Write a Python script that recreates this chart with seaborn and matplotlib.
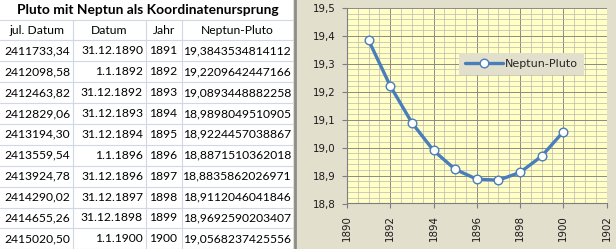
import matplotlib
matplotlib.use("Agg")
import matplotlib.pyplot as plt
from matplotlib.lines import Line2D
from matplotlib.patches import Rectangle
from matplotlib.ticker import MultipleLocator, FixedLocator, FixedFormatter
import numpy as np
import pandas as pd
import seaborn as sns

# ---------------- data ----------------
title = "Pluto mit Neptun als Koordinatenursprung"
headers = ["jul. Datum", "Datum", "Jahr", "Neptun-Pluto"]
jul_datum = [2411733.34, 2412098.58, 2412463.82, 2412829.06, 2413194.30,
             2413559.54, 2413924.78, 2414290.02, 2414655.26, 2415020.50]
datum = ["31.12.1890", "1.1.1892", "31.12.1892", "31.12.1893", "31.12.1894",
         "1.1.1896", "31.12.1896", "31.12.1897", "31.12.1898", "1.1.1900"]
jahr = [1891, 1892, 1893, 1894, 1895, 1896, 1897, 1898, 1899, 1900]
neptun_pluto = [19.3843534814112, 19.2209642447166, 19.0893448882258,
                18.9898049510905, 18.9224457038867, 18.8871510362018,
                18.8835862026971, 18.9112046041846, 18.9692590203407,
                19.0568237425556]
series_name = "Neptun-Pluto"
x_ticks = [1890, 1892, 1894, 1896, 1898, 1900, 1902]
y_ticks = [18.8, 18.9, 19.0, 19.1, 19.2, 19.3, 19.4, 19.5]
y_tick_labels = ["18,8", "18,9", "19,0", "19,1", "19,2", "19,3", "19,4", "19,5"]

# ---------------- style ----------------
W, H = 616, 249
CHART_BG = "#e3dfcd"
PLOT_BG = "#ffffc6"
LINE_BLUE = "#4a7ebb"
GRID_TABLE = "#d0d7e5"

sns.set_style("white")
plt.rcParams["font.family"] = ["DejaVu Sans"]

fig = plt.figure(figsize=(W / 100, H / 100), dpi=100)
fig.patch.set_facecolor(CHART_BG)


def fx(x):
    return x / W


def fy(y):
    return 1 - y / H


# ---------------- table (left) ----------------
fig.add_artist(Rectangle((0, fy(H)), fx(293), 1, transform=fig.transFigure,
                         facecolor="white", edgecolor="none", zorder=0))
col_edges = [0, 73, 146, 182, 293]
row0 = 40.3
row_h = 20.9
n_rows = len(jahr)

for yy in [20] + [row0 + row_h * i for i in range(n_rows + 1)]:
    fig.add_artist(Line2D([fx(0), fx(293)], [fy(yy), fy(yy)], transform=fig.transFigure,
                          color=GRID_TABLE, lw=0.8, zorder=1))
for xx in col_edges[1:-1]:
    fig.add_artist(Line2D([fx(xx), fx(xx)], [fy(20), fy(H)], transform=fig.transFigure,
                          color=GRID_TABLE, lw=0.8, zorder=1))
fig.add_artist(Line2D([fx(294.5), fx(294.5)], [0, 1], transform=fig.transFigure,
                      color="#8c8c8c", lw=2.0, zorder=2))

tfont = dict(family=["Lato", "DejaVu Sans"], fontsize=8.7, color="black")
fig.text(fx(148), fy(10.5), title, ha="center", va="center", fontweight="bold",
         family=["Lato", "DejaVu Sans"], fontsize=9.9, color="black")
for j, h in enumerate(headers):
    cx = (col_edges[j] + col_edges[j + 1]) / 2
    fig.text(fx(cx), fy(30.5), h, ha="center", va="center", **tfont)

for i in range(n_rows):
    cy = row0 + row_h * i + row_h / 2
    fig.text(fx(70.5), fy(cy), f"{jul_datum[i]:.2f}".replace(".", ","),
             ha="right", va="center", **tfont)
    fig.text(fx(143), fy(cy), datum[i], ha="right", va="center", **tfont)
    fig.text(fx(177), fy(cy), str(jahr[i]), ha="right", va="center", **tfont)
    fig.text(fx(291), fy(cy), f"{neptun_pluto[i]:.13f}".replace(".", ","),
             ha="right", va="center", **tfont)

# ---------------- chart (right) ----------------
ax = fig.add_axes([fx(347), fy(203.5), fx(606.5 - 347), (203.5 - 8) / H])
ax.set_facecolor(PLOT_BG)

df = pd.DataFrame({"Jahr": jahr, series_name: neptun_pluto})
sns.lineplot(data=df, x="Jahr", y=series_name, ax=ax, color=LINE_BLUE, lw=2.4,
             marker="o", markersize=6.2, markerfacecolor="white",
             markeredgecolor=LINE_BLUE, markeredgewidth=1.0, label=series_name,
             zorder=5)

ax.set_xlim(x_ticks[0], x_ticks[-1])
ax.set_ylim(y_ticks[0], y_ticks[-1])
ax.xaxis.set_major_locator(FixedLocator(x_ticks))
ax.xaxis.set_major_formatter(FixedFormatter([str(t) for t in x_ticks]))
ax.xaxis.set_minor_locator(MultipleLocator(0.5))
ax.yaxis.set_major_locator(FixedLocator(y_ticks))
ax.yaxis.set_major_formatter(FixedFormatter(y_tick_labels))
ax.yaxis.set_minor_locator(MultipleLocator(0.02))

ax.grid(which="major", color="#8a8a8a", lw=0.7)
ax.grid(which="minor", color="#b9b9b0", lw=0.5)
ax.set_axisbelow(True)

for side in ["top", "right"]:
    ax.spines[side].set_visible(False)
for side in ["left", "bottom"]:
    ax.spines[side].set_color("#7f7f7f")
    ax.spines[side].set_linewidth(0.8)

ax.tick_params(axis="both", which="major", length=3.5, width=0.8, color="#7f7f7f",
               labelsize=7.4, labelcolor="#1a1a1a", direction="out",
               bottom=True, left=True)
ax.tick_params(axis="y", which="major", pad=4.5)
ax.tick_params(axis="x", which="major", pad=5, labelrotation=90)
ax.tick_params(which="minor", length=0)
ax.set_xlabel("")
ax.set_ylabel("")

leg = ax.legend(loc="upper left", bbox_to_anchor=(0.432, 0.772), frameon=True,
                fontsize=8, handlelength=3.4, handletextpad=0.15,
                borderpad=0.55, borderaxespad=0, fancybox=False)
leg.get_frame().set_facecolor(CHART_BG)
leg.get_frame().set_edgecolor("none")
leg.get_frame().set_alpha(1)

fig.savefig("out.png", dpi=100, facecolor=fig.get_facecolor())
